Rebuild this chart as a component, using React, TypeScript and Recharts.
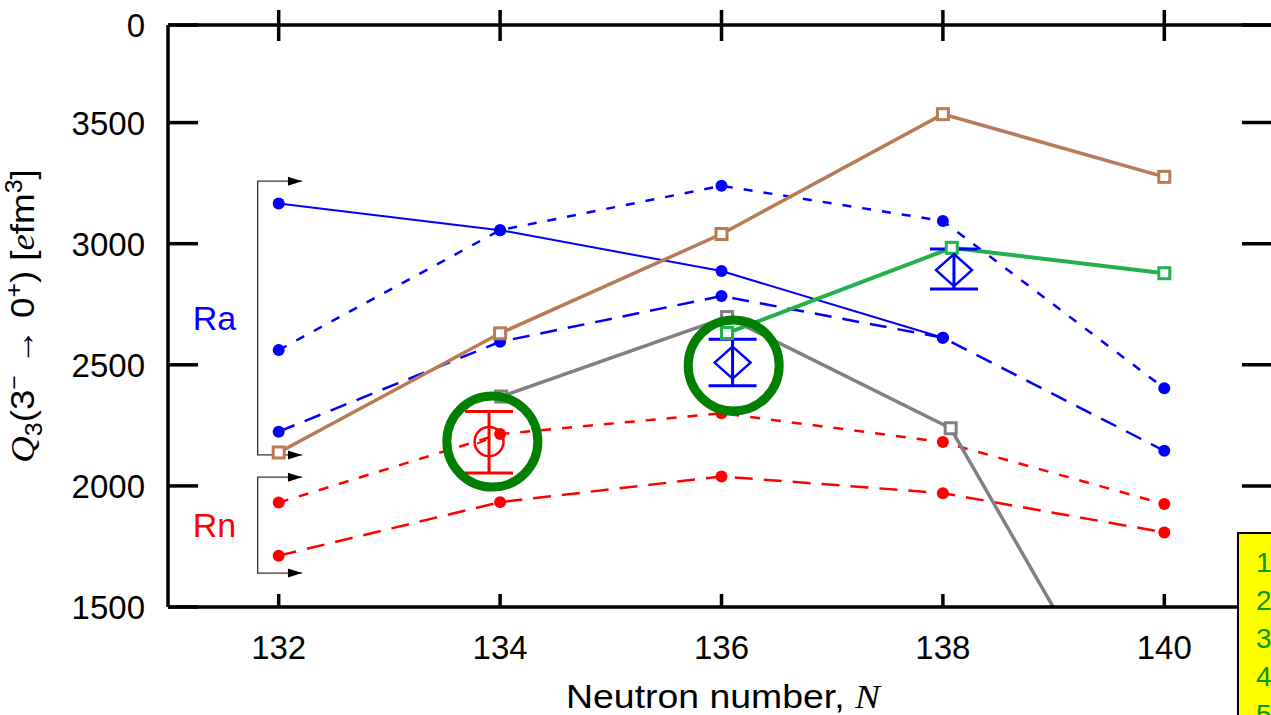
import React from 'react';
import {
  ComposedChart,
  Line,
  Scatter,
  ErrorBar,
  XAxis,
  YAxis,
  ReferenceDot,
} from 'recharts';

const BLUE = '#0000ff';
const RED = '#ff0000';
const BROWN = '#b97a57';
const GRAY = '#808080';
const GREEN = '#22b14c';
const RING = '#008000';
const FONT = '"Liberation Sans", Arial, sans-serif';

// axes
const nTicks = [132, 134, 136, 138, 140];
const qTicks = [1500, 2000, 2500, 3000, 3500, 3903];
const qTickLabels = ['1500', '2000', '2500', '3000', '3500', '0'];

// Ra (blue)
const raN = [132, 134, 136, 138, 140];
const raSolid = [3166, 3056, 2887, 2612];
const raShort = [2561, 3056, 3239, 3094, 2403];
const raLong = [2224, 2595, 2784, 2612, 2145];

// Rn (red)
const rnN = [132, 134, 136, 138, 140];
const rnShort = [1931, 2214, 2300, 2181, 1925];
const rnLong = [1712, 1933, 2039, 1970, 1808];

// open-square series
const brownN = [132, 134, 136, 138, 140];
const brownQ = [2138, 2630, 3040, 3535, 3276];
const grayN = [134.01, 136.05, 138.07, 140];
const grayQ = [2369, 2697, 2238, 700];
const greenN = [136.05, 138.08, 140];
const greenQ = [2631, 2983, 2878];

// experimental points
const rnExpN = [133.9];
const rnExpQ = [2183];
const rnExpErr = [[130, 124]];
const raExpN = [136.1, 138.1];
const raExpQ = [2509, 2891];
const raExpErr = [[96, 96], [78, 87]];

// highlight rings
const ringN = [133.93, 136.11];
const ringQ = [2183, 2497];

// group brackets
const bracketN = [132.21, 131.81, 131.81, 132.21];
const raBracketQ = [3258, 3258, 2128, 2128];
const rnBracketQ = [2036, 2036, 1640, 1640];
const groupLabels = ['Ra', 'Rn'];
const groupLabelN = [131.42, 131.42];
const groupLabelQ = [2693, 1839];

const pts = (xs: number[], ys: number[]) => ys.map((y, i) => ({ x: xs[i], y }));
const withErr = (xs: number[], ys: number[], es: number[][]) =>
  ys.map((y, i) => ({ x: xs[i], y, err: es[i] }));

const squareDot = (color: string) => (p: any) => (
  <rect
    key={`sq-${color}-${p.index}`}
    x={p.cx - 5.5}
    y={p.cy - 5.5}
    width={11}
    height={11}
    fill="#fff"
    stroke={color}
    strokeWidth={3}
    strokeDasharray="none"
  />
);

const arrowDot = (p: any) =>
  p.index === 0 || p.index === 3 ? (
    <path
      key={`ar-${p.index}`}
      d={`M${p.cx},${p.cy} L${p.cx - 14},${p.cy - 4.5} L${p.cx - 14},${p.cy + 4.5} Z`}
      fill="#000"
      stroke="none"
    />
  ) : (
    <g key={`ar-${p.index}`} />
  );

const RedCircle = (p: any) => (
  <g>
    <circle cx={p.cx} cy={p.cy} r={14.5} fill="none" stroke={RED} strokeWidth={2.5} />
    <line x1={p.cx - 12} y1={p.cy + 2} x2={p.cx - 3} y2={p.cy - 1.5} stroke={RED} strokeWidth={2} />
  </g>
);

const BlueDiamond = (p: any) => (
  <path
    d={`M${p.cx - 18},${p.cy} L${p.cx},${p.cy - 16} L${p.cx + 18},${p.cy} L${p.cx},${p.cy + 16} Z`}
    fill="none"
    stroke={BLUE}
    strokeWidth={2.5}
  />
);

const BottomTick = (p: any) => (
  <g>
    <line x1={p.x} y1={p.y} x2={p.x} y2={p.y - 13} stroke="#000" strokeWidth={3.5} />
    <text x={p.x} y={p.y + 52} textAnchor="middle" fontSize={33} fill="#000" fontFamily={FONT}>
      {p.payload.value}
    </text>
  </g>
);

const TopTick = (p: any) => (
  <line x1={p.x} y1={p.y - 15} x2={p.x} y2={p.y + 16} stroke="#000" strokeWidth={3.5} />
);

const LeftTick = (p: any) => (
  <g>
    <line x1={p.x} y1={p.y} x2={p.x + 30} y2={p.y} stroke="#000" strokeWidth={3.5} />
    <text x={p.x - 23} y={p.y + 12} textAnchor="end" fontSize={33} fill="#000" fontFamily={FONT}>
      {qTickLabels[p.index]}
    </text>
  </g>
);

const RightTick = (p: any) => (
  <line x1={p.x} y1={p.y} x2={p.x - 33} y2={p.y} stroke="#000" strokeWidth={3.5} />
);

const axisLine = { stroke: '#000', strokeWidth: 3.5 };
const serif = { fontFamily: '"Liberation Serif", serif' };

export default function App() {
  return (
    <div
      style={{
        position: 'fixed',
        left: 0,
        top: 0,
        width: 1271,
        height: 715,
        overflow: 'hidden',
        background: '#fff',
        fontFamily: FONT,
      }}
    >
      <ComposedChart width={1300} height={715} margin={{ top: 0, right: 0, bottom: 0, left: 0 }}>
        <XAxis
          xAxisId={0}
          dataKey="x"
          type="number"
          domain={[131, 141]}
          ticks={nTicks}
          allowDataOverflow
          height={108}
          axisLine={axisLine}
          tickLine={false}
          tickSize={0}
          tickMargin={0}
          tick={BottomTick}
        />
        <XAxis
          xAxisId="top"
          orientation="top"
          dataKey="x"
          type="number"
          domain={[131, 141]}
          ticks={nTicks}
          allowDataOverflow
          height={25}
          axisLine={axisLine}
          tickLine={false}
          tickSize={0}
          tickMargin={0}
          tick={TopTick}
        />
        <YAxis
          yAxisId={0}
          type="number"
          domain={[1500, 3903]}
          ticks={qTicks}
          allowDataOverflow
          width={168}
          axisLine={axisLine}
          tickLine={false}
          tickSize={0}
          tickMargin={0}
          tick={LeftTick}
        />
        <YAxis
          yAxisId="right"
          orientation="right"
          type="number"
          domain={[1500, 3903]}
          ticks={qTicks}
          allowDataOverflow
          width={25}
          axisLine={axisLine}
          tickLine={false}
          tickSize={0}
          tickMargin={0}
          tick={RightTick}
        />

        {/* group brackets */}
        <Line data={pts(bracketN, raBracketQ)} dataKey="y" type="linear" stroke="#333" strokeWidth={1.3} dot={arrowDot} activeDot={false} isAnimationActive={false} />
        <Line data={pts(bracketN, rnBracketQ)} dataKey="y" type="linear" stroke="#333" strokeWidth={1.3} dot={arrowDot} activeDot={false} isAnimationActive={false} />

        {/* Ra */}
        <Line data={pts(raN, raSolid)} dataKey="y" type="linear" stroke={BLUE} strokeWidth={2} dot={{ r: 6, fill: BLUE, stroke: 'none' }} activeDot={false} isAnimationActive={false} />
        <Line data={pts(raN, raShort)} dataKey="y" type="linear" stroke={BLUE} strokeWidth={2.5} strokeDasharray="9 11" dot={{ r: 6, fill: BLUE, stroke: 'none' }} activeDot={false} isAnimationActive={false} />
        <Line data={pts(raN, raLong)} dataKey="y" type="linear" stroke={BLUE} strokeWidth={2.5} strokeDasharray="17 11" dot={{ r: 6, fill: BLUE, stroke: 'none' }} activeDot={false} isAnimationActive={false} />

        {/* Rn */}
        <Line data={pts(rnN, rnShort)} dataKey="y" type="linear" stroke={RED} strokeWidth={2.5} strokeDasharray="10 11" dot={{ r: 6, fill: RED, stroke: 'none' }} activeDot={false} isAnimationActive={false} />
        <Line data={pts(rnN, rnLong)} dataKey="y" type="linear" stroke={RED} strokeWidth={2.5} strokeDasharray="18 11" dot={{ r: 6, fill: RED, stroke: 'none' }} activeDot={false} isAnimationActive={false} />

        {/* open squares */}
        <Line data={pts(grayN, grayQ)} dataKey="y" type="linear" stroke={GRAY} strokeWidth={3.5} dot={squareDot(GRAY)} activeDot={false} isAnimationActive={false} />
        <Line data={pts(greenN, greenQ)} dataKey="y" type="linear" stroke={GREEN} strokeWidth={4} dot={squareDot(GREEN)} activeDot={false} isAnimationActive={false} />
        <Line data={pts(brownN, brownQ)} dataKey="y" type="linear" stroke={BROWN} strokeWidth={3.5} dot={squareDot(BROWN)} activeDot={false} isAnimationActive={false} />

        {/* experiment */}
        <Scatter data={withErr(rnExpN, rnExpQ, rnExpErr)} dataKey="y" shape={RedCircle} isAnimationActive={false}>
          <ErrorBar dataKey="err" direction="y" width={24} stroke={RED} strokeWidth={3} isAnimationActive={false} />
        </Scatter>
        <Scatter data={withErr(raExpN, raExpQ, raExpErr)} dataKey="y" shape={BlueDiamond} isAnimationActive={false}>
          <ErrorBar dataKey="err" direction="y" width={24} stroke={BLUE} strokeWidth={3} isAnimationActive={false} />
        </Scatter>

        {groupLabels.map((t, i) => (
          <ReferenceDot
            key={t}
            x={groupLabelN[i]}
            y={groupLabelQ[i]}
            r={0}
            fill="none"
            stroke="none"
            label={{ value: t, position: 'center', fill: i === 0 ? BLUE : RED, fontSize: 34, fontFamily: FONT }}
          />
        ))}

        {ringN.map((n, i) => (
          <ReferenceDot key={`ring-${i}`} x={n} y={ringQ[i]} r={45.5} fill="none" stroke={RING} strokeWidth={9} />
        ))}
      </ComposedChart>

      {/* y-axis title */}
      <div
        style={{
          position: 'absolute',
          left: 24,
          top: 316,
          transform: 'translate(-50%, -50%) rotate(-90deg) scaleX(1.08)',
          whiteSpace: 'nowrap',
          fontSize: 34,
          lineHeight: '38px',
          color: '#000',
        }}
      >
        <i style={serif}>Q</i>
        <sub style={{ fontSize: 23 }}>3</sub>(3<sup style={{ fontSize: 23 }}>−</sup> → 0
        <sup style={{ fontSize: 23 }}>+</sup>) [<i style={serif}>e</i>fm
        <sup style={{ fontSize: 23 }}>3</sup>]
      </div>

      {/* x-axis title */}
      <div
        style={{
          position: 'absolute',
          left: 0,
          width: 1446,
          top: 679,
          textAlign: 'center',
          fontSize: 34,
          lineHeight: '34px',
          whiteSpace: 'nowrap',
          color: '#000',
          transform: 'scaleX(1.1)',
          transformOrigin: '723px 0',
        }}
      >
        Neutron number, <i style={serif}>N</i>
      </div>

      {/* side box */}
      <div
        style={{
          position: 'absolute',
          left: 1237,
          top: 532,
          width: 80,
          height: 220,
          background: '#ffff00',
          border: '2px solid #000',
          boxSizing: 'border-box',
          paddingLeft: 17,
          paddingTop: 10,
          color: '#009900',
          fontSize: 28,
          lineHeight: '38px',
        }}
      >
        {['1', '2', '3', '4', '5'].map((s) => (
          <div key={s}>{s}</div>
        ))}
      </div>
    </div>
  );
}
